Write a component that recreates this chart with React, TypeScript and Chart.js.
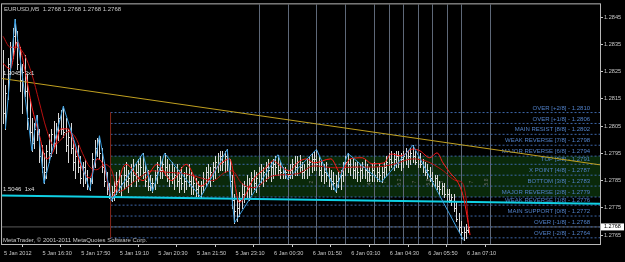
import React, { useEffect, useRef } from "react";
import { Chart, registerables } from "chart.js";

Chart.register(...registerables);

// ---- Data (EURUSD M5, bar index 0 = 5 Jan 15:10) ----
const highs = [
  1.2833, 1.2820, 1.2830, 1.2836, 1.2841, 1.28443, 1.2840, 1.2834, 1.2828, 1.2831,
  1.2824, 1.2815, 1.2808, 1.2806, 1.2809, 1.2804, 1.2798, 1.2795, 1.2798, 1.2802,
  1.2804, 1.2807, 1.2806, 1.2810, 1.2811, 1.28123, 1.2808, 1.2804, 1.2806, 1.2800,
  1.2797, 1.2798, 1.2794, 1.2792, 1.2793, 1.2789, 1.2786, 1.2795, 1.2800, 1.28005,
  1.28015, 1.2797, 1.2792, 1.2788, 1.2784, 1.2783, 1.2785, 1.2788, 1.2789, 1.2787,
  1.2790, 1.2792, 1.2789, 1.2791, 1.2793, 1.2791, 1.2793, 1.2794, 1.2795, 1.2791,
  1.2789, 1.2787, 1.2786, 1.2789, 1.2792, 1.2794, 1.2793, 1.2795, 1.2793, 1.2791,
  1.2792, 1.2790, 1.2791, 1.2789, 1.2790, 1.2788, 1.2790, 1.2791, 1.2788, 1.2787,
  1.2786, 1.2785, 1.2785, 1.2788, 1.2790, 1.2791, 1.2790, 1.2792, 1.2794, 1.2795,
  1.2796, 1.2796, 1.2796, 1.27965, 1.2793, 1.2787, 1.2780, 1.2778, 1.2781, 1.2784,
  1.2785, 1.2787, 1.2786, 1.2788, 1.2789, 1.2788, 1.2790, 1.2791, 1.2790, 1.2792,
  1.2793, 1.2792, 1.2793, 1.2794, 1.27945, 1.2792, 1.2790, 1.2790, 1.2789, 1.2791,
  1.2793, 1.2794, 1.2794, 1.27945, 1.2792, 1.2791, 1.2793, 1.2794, 1.2795, 1.2796,
  1.27965, 1.2794, 1.2792, 1.2791, 1.2792, 1.2790, 1.2789, 1.2788, 1.2787, 1.2788,
  1.2789, 1.2792, 1.2794, 1.2795, 1.2793, 1.2793, 1.2792, 1.2792, 1.2791, 1.2792,
  1.2793, 1.2791, 1.2790, 1.2791, 1.2792, 1.2790, 1.2791, 1.2790, 1.2792, 1.2794,
  1.2795, 1.2796, 1.2795, 1.2796, 1.2796, 1.2795, 1.2796, 1.2797, 1.2796, 1.2797,
  1.2798, 1.2796, 1.2794, 1.2795, 1.2793, 1.2792, 1.2791, 1.2790, 1.2788, 1.2787,
  1.2787, 1.2785, 1.2784, 1.2784, 1.2782, 1.2782, 1.2780, 1.2780, 1.2777, 1.2773,
  1.2770, 1.2768, 1.2769, 1.27685,
];

const lows = [
  1.2806, 1.2804, 1.2815, 1.2824, 1.2830, 1.2834, 1.2826, 1.2818, 1.2810, 1.2816,
  1.2804, 1.2800, 1.2796, 1.2797, 1.2800, 1.2792, 1.2788, 1.2784, 1.2786, 1.2792,
  1.2794, 1.2797, 1.2795, 1.2800, 1.2802, 1.2801, 1.2796, 1.2792, 1.2795, 1.2789,
  1.2786, 1.2788, 1.2784, 1.2783, 1.2784, 1.2782, 1.27815, 1.2784, 1.2790, 1.2794,
  1.2793, 1.2788, 1.2783, 1.2780, 1.27785, 1.27775, 1.2778, 1.2780, 1.2781, 1.2779,
  1.2782, 1.2783, 1.2781, 1.2783, 1.2785, 1.2783, 1.2785, 1.2787, 1.2786, 1.2783,
  1.27815, 1.27815, 1.2781, 1.2782, 1.2784, 1.2786, 1.2786, 1.2787, 1.2785, 1.2783,
  1.2784, 1.2782, 1.2783, 1.2781, 1.2782, 1.2781, 1.2782, 1.2783, 1.2780, 1.2780,
  1.27795, 1.27795, 1.2779, 1.2781, 1.2783, 1.2784, 1.2783, 1.2785, 1.2786, 1.2788,
  1.2789, 1.2789, 1.2788, 1.2789, 1.2783, 1.2775, 1.27695, 1.2770, 1.2772, 1.2775,
  1.2777, 1.2779, 1.2778, 1.2780, 1.2782, 1.2781, 1.2783, 1.2784, 1.2783, 1.2785,
  1.2786, 1.2785, 1.2786, 1.2787, 1.2787, 1.2786, 1.2786, 1.2786, 1.27855, 1.2786,
  1.2786, 1.2787, 1.2787, 1.2788, 1.2786, 1.2786, 1.2786, 1.2787, 1.2788, 1.2789,
  1.2789, 1.2787, 1.2785, 1.2784, 1.2785, 1.2783, 1.2782, 1.2782, 1.2781, 1.27825,
  1.2782, 1.2785, 1.2787, 1.2788, 1.2787, 1.2786, 1.2786, 1.2785, 1.2785, 1.2786,
  1.2786, 1.2785, 1.2785, 1.2785, 1.2785, 1.2785, 1.2785, 1.27845, 1.2786, 1.2787,
  1.2789, 1.2790, 1.2789, 1.2790, 1.2790, 1.2789, 1.2790, 1.2791, 1.2790, 1.2791,
  1.2792, 1.2791, 1.2790, 1.2790, 1.2788, 1.2787, 1.2786, 1.2785, 1.2783, 1.2783,
  1.2782, 1.2780, 1.2780, 1.2779, 1.2778, 1.2777, 1.2776, 1.2774, 1.2770, 1.2766,
  1.2764, 1.27631, 1.2764, 1.2766,
];

const closes = [
  1.2810, 1.2817, 1.2828, 1.2834, 1.2838, 1.2836, 1.2828, 1.2822, 1.2825, 1.2818,
  1.2808, 1.2803, 1.2799, 1.2804, 1.2802, 1.2794, 1.2790, 1.2788, 1.2796, 1.2795,
  1.2802, 1.2799, 1.2804, 1.2808, 1.2804, 1.2803, 1.2798, 1.2801, 1.2797, 1.2792,
  1.2794, 1.2790, 1.2786, 1.2790, 1.2786, 1.2783, 1.2785, 1.2793, 1.2797, 1.2800,
  1.2795, 1.2790, 1.2785, 1.2782, 1.2780, 1.2781, 1.2783, 1.2785, 1.2783, 1.2784,
  1.2787, 1.2785, 1.2786, 1.2789, 1.2787, 1.2788, 1.2791, 1.2790, 1.2788, 1.2785,
  1.2783, 1.2784, 1.2784, 1.2787, 1.2790, 1.2789, 1.2791, 1.2790, 1.2787, 1.2788,
  1.2786, 1.2787, 1.2785, 1.2786, 1.2784, 1.2785, 1.2787, 1.2785, 1.2783, 1.2784,
  1.2782, 1.2783, 1.2783, 1.2786, 1.2788, 1.2786, 1.2788, 1.2790, 1.2792, 1.2791,
  1.2794, 1.2792, 1.2794, 1.2791, 1.2785, 1.2778, 1.2774, 1.2775, 1.2778, 1.2780,
  1.2783, 1.2782, 1.2784, 1.2786, 1.2784, 1.2786, 1.2788, 1.2786, 1.2788, 1.2790,
  1.2789, 1.2790, 1.2791, 1.2790, 1.2789, 1.2788, 1.2788, 1.2788, 1.2787, 1.2789,
  1.2791, 1.2790, 1.2792, 1.2790, 1.2788, 1.2789, 1.2791, 1.2792, 1.2793, 1.2793,
  1.2791, 1.2789, 1.2787, 1.2788, 1.2787, 1.2786, 1.2785, 1.2784, 1.2785, 1.2786,
  1.2787, 1.2790, 1.2792, 1.2791, 1.2790, 1.2789, 1.2790, 1.2788, 1.2789, 1.2790,
  1.2789, 1.2788, 1.2787, 1.2789, 1.2787, 1.2788, 1.2787, 1.2788, 1.2790, 1.2792,
  1.2793, 1.2792, 1.2793, 1.2794, 1.2792, 1.2793, 1.2794, 1.2793, 1.2794, 1.2795,
  1.2794, 1.2792, 1.2793, 1.2791, 1.2790, 1.2788, 1.2789, 1.2786, 1.2785, 1.2786,
  1.2783, 1.2782, 1.2783, 1.2780, 1.2780, 1.2778, 1.2779, 1.2775, 1.2771, 1.2768,
  1.2766, 1.2766, 1.2767, 1.2768,
];

// fast moving average (sampled bars)
const maFastIdx = [
  0, 3, 6, 9, 12, 15, 18, 21, 24, 27, 30, 33, 36, 39, 42, 45, 51, 58, 64, 70,
  76, 82, 90, 94, 98, 104, 109, 112, 116, 119, 122, 126, 129, 136, 140, 144, 149, 153, 158, 161,
  165, 170, 173, 177, 180, 182.5, 185.4, 188.7, 190.8, 192.4, 193.7,
];
const maFast = [
  1.2828, 1.2826, 1.2836, 1.2826, 1.2812, 1.2802, 1.2793, 1.2796, 1.2804, 1.2804,
  1.2797, 1.2789, 1.2786, 1.2793, 1.2790, 1.2779, 1.2791, 1.2785, 1.2791, 1.2785,
  1.2791, 1.2783, 1.2791, 1.2793, 1.2777, 1.27857, 1.27897, 1.27923, 1.27897, 1.27886,
  1.27915, 1.2793, 1.27915, 1.2793, 1.27879, 1.2793, 1.27934, 1.27912, 1.27915, 1.27948,
  1.27941, 1.27966, 1.27959, 1.27934, 1.27952, 1.27915, 1.27879, 1.27843, 1.27795, 1.27723,
  1.2765,
];

// slow moving average (sampled bars)
const maSlowIdx = [
  0, 3, 6, 9, 12, 15, 18, 21, 24, 27, 30, 33, 36, 39, 42, 45, 48, 55, 62, 69,
  76, 82, 87, 92, 95, 99, 104, 112, 122, 129, 138, 146, 154, 162, 170, 176, 182, 188, 190.4, 192.4,
  192.9,
];
const maSlow = [
  1.2838, 1.2834, 1.2834, 1.2831, 1.2824, 1.2814, 1.2804, 1.2798, 1.2800, 1.2803,
  1.2801, 1.2795, 1.2790, 1.2789, 1.2791, 1.2789, 1.2781, 1.2785, 1.27886, 1.2788,
  1.27875, 1.2786, 1.2785, 1.2788, 1.27886, 1.2784, 1.27824, 1.27868, 1.27875, 1.27904,
  1.27897, 1.2790, 1.2790, 1.2791, 1.2793, 1.2792, 1.2789, 1.2785, 1.27843, 1.27759,
  1.27697,
];

// ZigZag swing points
const zigIdx = [1, 5, 12, 14, 17, 25, 36, 40, 45, 58, 62, 67, 82, 93, 96, 114, 118, 130, 138, 143, 157, 170, 191];
const zigPrice = [
  1.2804, 1.28443, 1.2796, 1.2809, 1.2784, 1.28123, 1.27815, 1.28015, 1.27775, 1.2795,
  1.2781, 1.2795, 1.2779, 1.27965, 1.27695, 1.27945, 1.27855, 1.27965, 1.2781, 1.2795,
  1.27845, 1.2798, 1.27631,
];

// Murrey Math levels
const murreyLevels = [1.2810, 1.2806, 1.2802, 1.2798, 1.2794, 1.2791, 1.2787, 1.2783, 1.2779, 1.2776, 1.2772, 1.2768, 1.2764];
const murreyLabels = [
  "OVER [+2/8] - 1.2810",
  "OVER [+1/8] - 1.2806",
  "MAIN RESIST [8/8] - 1.2802",
  "WEAK REVERSE [7/8] - 1.2798",
  "MAJOR REVERSE [6/8] - 1.2794",
  "TOP [5/8] - 1.2791",
  "X POINT [4/8] - 1.2787",
  "BOTTOM [3/8] - 1.2783",
  "MAJOR REVERSE [2/8] - 1.2779",
  "WEAK REVERSE [1/8] - 1.2776",
  "MAIN SUPPORT [0/8] - 1.2772",
  "OVER [-1/8] - 1.2768",
  "OVER [-2/8] - 1.2764",
];
const murreyStartIdx = 44.6;
const murreyLabelIdx = 243.5;
const greenZone = [1.2794, 1.2779];

// small vertical annotations inside the zone
const noteIdx = [128.2, 152.2, 158.4, 164.7, 170.9, 176.7, 182.1, 194.5, 200.7];
const noteText = ["2", "4.0", "7", "5.2", "7", "5.8", "5", "7", "5.8"];
const notePrice = 1.27845;

// hourly / half-hourly vertical lines (bar index)
const sessionLines = [106, 118, 130, 142, 154, 160, 166, 172, 178, 184, 190, 202];

// trend lines
const xMin = -0.4;
const xMax = 247.6;
const trendLine = [1.28225, 1.27908];
const gannLine = [1.27795, 1.27765];
const trendLabel = "1.3045  3x1";
const gannLabel = "1.5046  1x4";
const bidPrice = 1.2768;

const xTickIdx = [0, 16, 32, 48, 64, 80, 96, 112, 128, 144, 160, 176, 192];
const xTickLabels = [
  "5 Jan 2012", "5 Jan 16:30", "5 Jan 17:50", "5 Jan 19:10", "5 Jan 20:30", "5 Jan 21:50",
  "5 Jan 23:10", "6 Jan 00:30", "6 Jan 01:50", "6 Jan 03:10", "6 Jan 04:30", "6 Jan 05:50", "6 Jan 07:10",
];
const yTicks = [1.2765, 1.2775, 1.2785, 1.2795, 1.2805, 1.2815, 1.2825, 1.2835, 1.2845];
const yMin = 1.276173;
const yMax = 1.284973;

const titleText = "EURUSD,M5  1.2768 1.2768 1.2768 1.2768";
const copyrightText = "MetaTrader, \u00A9 2001-2011 MetaQuotes Software Corp.";

const FONT = '"Liberation Sans", Arial, sans-serif';
const FG = "#c8c8c8";

const mtPlugin = {
  id: "mt4",
  beforeDraw(chart: any) {
    const { ctx, width, height } = chart;
    ctx.save();
    ctx.fillStyle = "#000000";
    ctx.fillRect(0, 0, width, height);
    ctx.restore();
  },
  beforeDatasetsDraw(chart: any) {
    const { ctx, chartArea: a, scales } = chart;
    const x = scales.x;
    const y = scales.y;
    ctx.save();
    ctx.beginPath();
    ctx.rect(a.left, a.top, a.right - a.left, a.bottom - a.top);
    ctx.clip();
    // green zone
    const x0 = x.getPixelForValue(murreyStartIdx);
    const yt = y.getPixelForValue(greenZone[0]);
    const yb = y.getPixelForValue(greenZone[1]);
    ctx.fillStyle = "#0a290a";
    ctx.fillRect(x0, yt, a.right - x0, yb - yt);
    // vertical lines
    ctx.strokeStyle = "#5e6878";
    ctx.lineWidth = 1;
    sessionLines.forEach((s) => {
      const px = Math.round(x.getPixelForValue(s)) + 0.5;
      ctx.beginPath();
      ctx.moveTo(px, a.top);
      ctx.lineTo(px, a.bottom);
      ctx.stroke();
    });
    // small vertical notes
    ctx.font = `5px ${FONT}`;
    ctx.fillStyle = "#6a6a6a";
    ctx.textAlign = "center";
    ctx.textBaseline = "middle";
    const ny = y.getPixelForValue(notePrice);
    noteIdx.forEach((ix, i) => {
      ctx.save();
      ctx.translate(x.getPixelForValue(ix), ny);
      ctx.rotate(-Math.PI / 2);
      ctx.fillText(noteText[i], 0, 0);
      ctx.restore();
    });
    // murrey labels
    ctx.font = `6px ${FONT}`;
    ctx.fillStyle = "#5080c8";
    ctx.textAlign = "right";
    ctx.textBaseline = "bottom";
    const lx = x.getPixelForValue(murreyLabelIdx);
    murreyLevels.forEach((lv, i) => {
      ctx.fillText(murreyLabels[i], lx, y.getPixelForValue(lv) - 1.5);
    });
    ctx.restore();
  },
  afterDatasetDraw(chart: any, args: any) {
    if (args.meta.type !== "bar") return;
    // crisp OHLC-style bars on whole pixels, positioned through the scales
    const { ctx, scales } = chart;
    const x = scales.x;
    const y = scales.y;
    ctx.save();
    ctx.fillStyle = "#d8d8d8";
    highs.forEach((h, i) => {
      const px = Math.round(x.getPixelForValue(i));
      const yh = Math.round(y.getPixelForValue(h));
      const yl = Math.round(y.getPixelForValue(lows[i]));
      ctx.fillRect(px, yh, 1, Math.max(1, yl - yh + 1));
      const yc = Math.round(y.getPixelForValue(closes[i]));
      ctx.fillRect(px + 1, yc, 1, 1);
    });
    ctx.restore();
  },
  afterDraw(chart: any) {
    const { ctx, chartArea: a, scales } = chart;
    const x = scales.x;
    const y = scales.y;
    ctx.save();
    // frame
    ctx.strokeStyle = "#b8b8b8";
    ctx.lineWidth = 1;
    ctx.strokeRect(a.left - 0.5, a.top - 0.5, a.right - a.left + 1, a.bottom - a.top + 1);
    // texts
    ctx.font = `6px ${FONT}`;
    ctx.fillStyle = FG;
    ctx.textAlign = "left";
    ctx.textBaseline = "middle";
    ctx.fillText(titleText, a.left + 2, a.top + 5);
    ctx.fillText(copyrightText, a.left + 1, a.bottom - 4);
    ctx.textBaseline = "bottom";
    ctx.fillStyle = "#e0e0e0";
    ctx.fillText(trendLabel, x.getPixelForValue(0), y.getPixelForValue(trendLine[0]) - 2);
    ctx.fillText(gannLabel, x.getPixelForValue(0), y.getPixelForValue(gannLine[0]) - 3);
    // current price label
    const py = y.getPixelForValue(bidPrice);
    ctx.fillStyle = "#ffffff";
    ctx.fillRect(a.right + 1, py - 3.5, 23, 7);
    ctx.fillStyle = "#000000";
    ctx.font = `5.5px ${FONT}`;
    ctx.textBaseline = "middle";
    ctx.fillText(bidPrice.toFixed(4), a.right + 4, py);
    ctx.restore();
  },
};

function line(idx: number[], vals: number[]) {
  return vals.map((v, i) => ({ x: idx[i], y: v }));
}

export default function App() {
  const ref = useRef<HTMLCanvasElement | null>(null);

  useEffect(() => {
    document.body.style.margin = "0";
    document.body.style.background = "#000";
    const canvas = ref.current;
    if (!canvas) return;

    const datasets: any[] = [];
    // Murrey dotted lines
    murreyLevels.forEach((lv) => {
      datasets.push({
        type: "line",
        data: [
          { x: murreyStartIdx, y: lv },
          { x: xMax, y: lv },
        ],
        borderColor: "#3d66a8",
        borderWidth: 1,
        borderDash: [2, 2],
        pointRadius: 0,
        order: 100,
      });
    });
    // bid line
    datasets.push({
      type: "line",
      data: [
        { x: xMin, y: bidPrice },
        { x: xMax, y: bidPrice },
      ],
      borderColor: "#5a5a5a",
      borderWidth: 1,
      pointRadius: 0,
      order: 101,
    });
    // dark red vertical line at Murrey start
    datasets.push({
      type: "line",
      data: [
        { x: murreyStartIdx, y: murreyLevels[0] },
        { x: murreyStartIdx, y: murreyLevels[murreyLevels.length - 1] },
      ],
      borderColor: "#7c2418",
      borderWidth: 1,
      pointRadius: 0,
      order: 95,
    });
    // price bars (high-low ranges); painted crisp by the plugin hook
    datasets.push({
      type: "bar",
      data: highs.map((h, i) => ({ x: i, y: [lows[i], h] })),
      backgroundColor: "rgba(0,0,0,0)",
      borderWidth: 0,
      barThickness: 1,
      grouped: false,
      order: 50,
    });
    // yellow trend line
    datasets.push({
      type: "line",
      data: [
        { x: xMin, y: trendLine[0] },
        { x: xMax, y: trendLine[1] },
      ],
      borderColor: "#c0a020",
      borderWidth: 1,
      pointRadius: 0,
      order: 40,
    });
    // cyan gann line
    datasets.push({
      type: "line",
      data: [
        { x: xMin, y: gannLine[0] },
        { x: xMax, y: gannLine[1] },
      ],
      borderColor: "#10d0e4",
      borderWidth: 2,
      pointRadius: 0,
      order: 30,
    });
    // MAs
    datasets.push({
      type: "line",
      data: line(maSlowIdx, maSlow),
      borderColor: "#b81010",
      borderWidth: 1,
      pointRadius: 0,
      cubicInterpolationMode: "monotone",
      order: 20,
    });
    datasets.push({
      type: "line",
      data: line(maFastIdx, maFast),
      borderColor: "#ff1a1a",
      borderWidth: 1,
      pointRadius: 0,
      cubicInterpolationMode: "monotone",
      order: 15,
    });
    // zigzag
    datasets.push({
      type: "line",
      data: line(zigIdx, zigPrice),
      borderColor: "#3a9ee0",
      borderWidth: 1,
      pointRadius: 0,
      tension: 0,
      order: 10,
    });

    const chart = new Chart(canvas, {
      type: "bar",
      data: { datasets },
      options: {
        animation: false,
        responsive: false,
        maintainAspectRatio: false,
        devicePixelRatio: 1,
        events: [],
        layout: { padding: { left: 2, top: 2, right: 0, bottom: 0 } },
        plugins: { legend: { display: false }, tooltip: { enabled: false } },
        scales: {
          x: {
            type: "linear",
            min: xMin,
            max: xMax,
            offset: false,
            bounds: "data",
            grid: { display: true, drawOnChartArea: false, drawTicks: true, tickLength: 3, color: FG },
            border: { display: true, color: "#b8b8b8" },
            ticks: {
              color: FG,
              font: { family: FONT, size: 5.6 },
              autoSkip: false,
              maxRotation: 0,
              minRotation: 0,
              align: "start",
              padding: 3,
              labelOffset: 1,
              callback: (_v: any, i: number) => xTickLabels[i] ?? "",
            },
            afterBuildTicks: (s: any) => {
              s.ticks = xTickIdx.map((v) => ({ value: v }));
            },
            afterFit: (s: any) => {
              s.height = 18;
            },
          },
          y: {
            type: "linear",
            position: "right",
            min: yMin,
            max: yMax,
            bounds: "data",
            grid: { display: true, drawOnChartArea: false, drawTicks: true, tickLength: 3, color: FG },
            border: { display: true, color: "#b8b8b8" },
            ticks: {
              color: FG,
              font: { family: FONT, size: 5.6 },
              autoSkip: false,
              padding: 1,
              callback: (v: any) => Number(v).toFixed(4),
            },
            afterBuildTicks: (s: any) => {
              s.ticks = yTicks.map((v) => ({ value: v }));
            },
            afterFit: (s: any) => {
              s.width = 25;
            },
          },
        },
      } as any,
      plugins: [mtPlugin as any],
    });

    return () => chart.destroy();
  }, []);

  return (
    <div style={{ width: 625, height: 262, background: "#000" }}>
      <canvas ref={ref} width={625} height={262} style={{ display: "block", width: 625, height: 262 }} />
    </div>
  );
}
